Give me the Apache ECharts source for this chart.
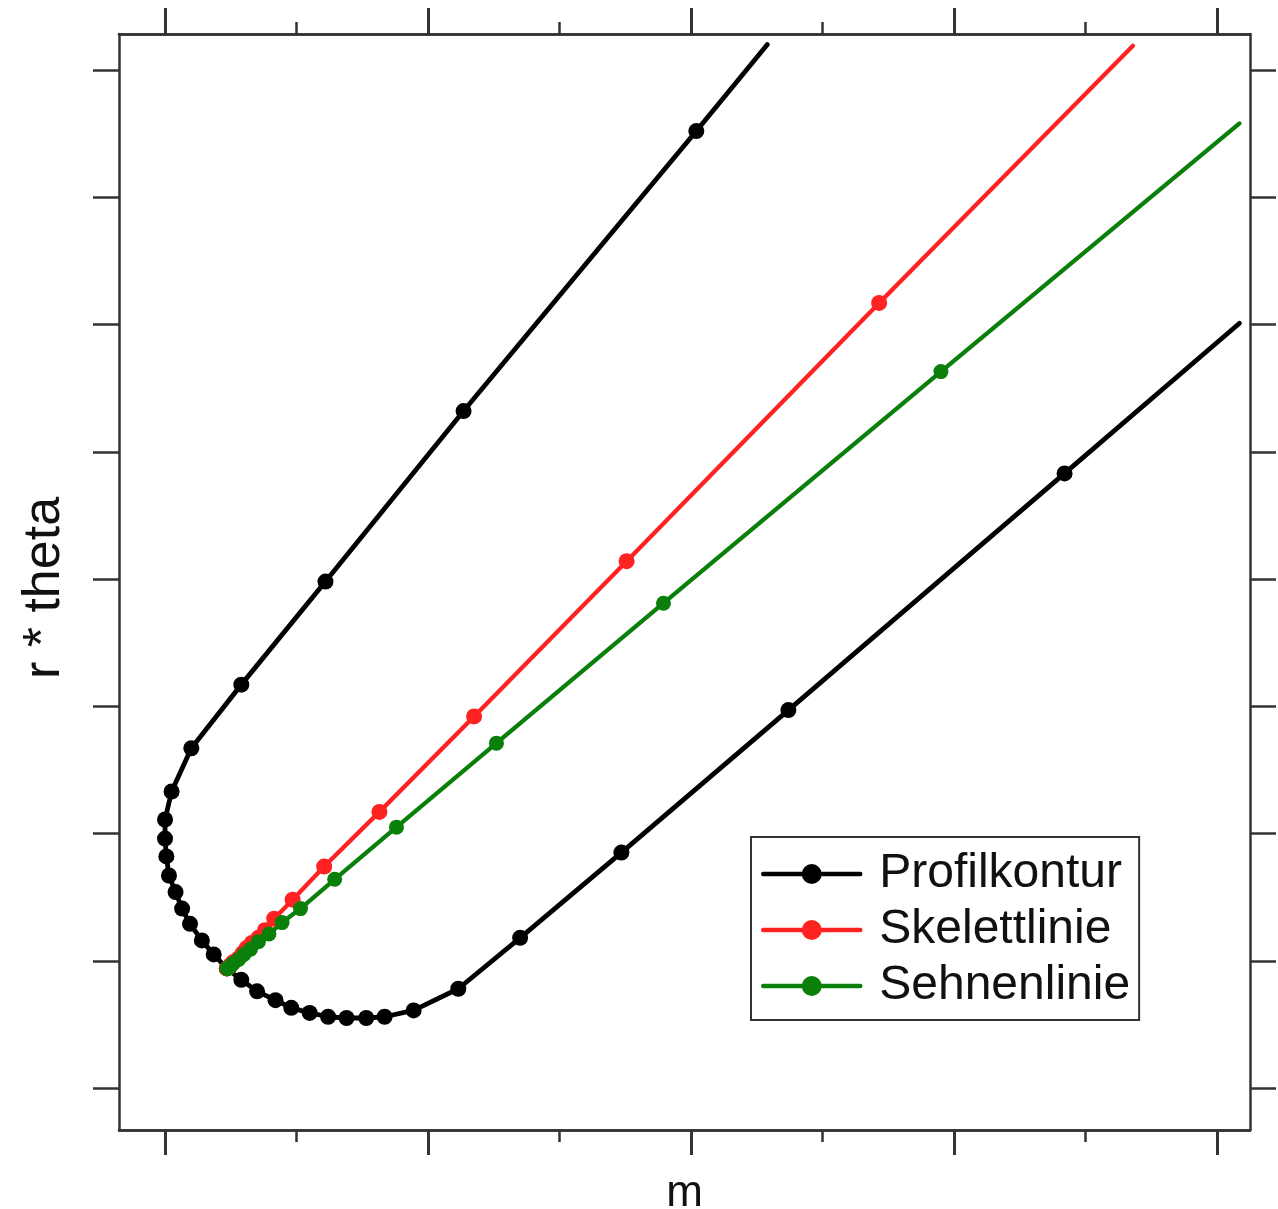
<!DOCTYPE html>
<html>
<head>
<meta charset="utf-8">
<script src="https://cdn.jsdelivr.net/npm/echarts@6/dist/echarts.min.js"></script>
<style>
  html, body { margin: 0; padding: 0; background: #fff; overflow: hidden; }
  #chart { width: 1278px; height: 1209px; }
</style>
</head>
<body>
<div id="chart"></div>
<script>
// Profile contour, traced from the upper trailing end round the nose to the lower trailing end
const profilM = [4.58, 4.04, 2.27, 1.22, 0.58, 0.20, 0.05, 0.00, 0.00, 0.01, 0.03, 0.08, 0.13, 0.19, 0.28, 0.37, 0.47,
                 0.58, 0.70, 0.84, 0.96, 1.10, 1.24, 1.38, 1.53, 1.67, 1.89, 2.23, 2.70, 3.47, 4.74, 6.84, 8.17];
const profilR = [8.20, 7.52, 5.32, 3.98, 3.17, 2.67, 2.33, 2.11, 1.96, 1.82, 1.67, 1.54, 1.41, 1.29, 1.16, 1.05, 0.94,
                 0.85, 0.76, 0.69, 0.63, 0.59, 0.56, 0.55, 0.55, 0.56, 0.61, 0.78, 1.18, 1.85, 2.97, 4.83, 6.01];

// Skeleton (camber) line
const skelettM = [0.47, 0.49, 0.50, 0.52, 0.56, 0.59, 0.62, 0.66, 0.71, 0.76, 0.83, 0.97, 1.21, 1.63, 2.35, 3.51, 5.43, 7.36];
const skelettR = [0.94, 0.95, 0.97, 0.99, 1.02, 1.06, 1.10, 1.14, 1.18, 1.24, 1.33, 1.48, 1.74, 2.17, 2.92, 4.14, 6.17, 8.19];

// Chord line
const sehneM = [0.47, 0.48, 0.50, 0.52, 0.56, 0.60, 0.65, 0.71, 0.79, 0.89, 1.03, 1.29, 1.76, 2.52, 3.79, 5.90, 8.17];
const sehneR = [0.94, 0.94, 0.96, 0.98, 1.01, 1.05, 1.09, 1.15, 1.21, 1.30, 1.41, 1.64, 2.05, 2.71, 3.81, 5.63, 7.58];

// Tick positions (no tick labels are drawn)
const xMajorTicks = [0, 2, 4, 6, 8];
const xMinorTicks = [1, 3, 5, 7];
const yTicks = [0, 1, 2, 3, 4, 5, 6, 7, 8];

const X_MIN = -0.35, X_MAX = 8.25;
const Y_MIN = -0.33, Y_MAX = 8.283;

const FONT = 'Liberation Sans, Arial, Helvetica, sans-serif';
const AXIS_COLOR = '#333';

// Open curves: the ends of each curve carry no marker
function toData(ms, rs, bareStart) {
  return ms.map((m, i) => {
    const item = { value: [m, rs[i]] };
    if (i === ms.length - 1 || (bareStart && i === 0)) item.symbol = 'none';
    return item;
  });
}

function xAxis(position, ticks, len, withName) {
  return {
    type: 'value', position: position, min: X_MIN, max: X_MAX,
    name: withName ? 'm' : '',
    nameLocation: 'middle', nameGap: 42,
    nameTextStyle: { fontFamily: FONT, fontSize: 44, color: '#111' },
    axisLine: { show: true, onZero: false, lineStyle: { color: AXIS_COLOR, width: 2.5 } },
    axisTick: { show: true, inside: false, length: len, customValues: ticks,
                lineStyle: { color: AXIS_COLOR, width: len > 20 ? 3 : 2.5 } },
    axisLabel: { show: false },
    splitLine: { show: false }
  };
}

function yAxis(position, withName) {
  return {
    type: 'value', position: position, min: Y_MIN, max: Y_MAX,
    name: withName ? 'r * theta' : '',
    nameLocation: 'middle', nameGap: 48, nameRotate: 90,
    nameTextStyle: { fontFamily: FONT, fontSize: 52, color: '#111', padding: [0, 12, 0, 0] },
    axisLine: { show: true, onZero: false, lineStyle: { color: AXIS_COLOR, width: 2.5 } },
    axisTick: { show: true, inside: false, length: 26, customValues: yTicks,
                lineStyle: { color: AXIS_COLOR, width: 2.5 } },
    axisLabel: { show: false },
    splitLine: { show: false }
  };
}

function curve(name, ms, rs, color, width, size, bareStart) {
  return {
    name: name, type: 'line',
    xAxisIndex: 0, yAxisIndex: 0,
    data: toData(ms, rs, bareStart),
    symbol: 'circle', symbolSize: size, showAllSymbol: true,
    lineStyle: { color: color, width: width, cap: 'round', join: 'round' },
    itemStyle: { color: color, borderWidth: 0 },
    emphasis: { disabled: true },
    animation: false, clip: true
  };
}

const chart = echarts.init(document.getElementById('chart'), null, { renderer: 'canvas', width: 1278, height: 1209 });
chart.setOption({
  backgroundColor: '#fff',
  animation: false,
  grid: { left: 119, top: 34, right: 28, bottom: 79, containLabel: false, outerBoundsMode: 'none' },
  xAxis: [
    xAxis('bottom', xMajorTicks, 25, true),
    xAxis('bottom', xMinorTicks, 12, false),
    xAxis('top', xMajorTicks, 26, false),
    xAxis('top', xMinorTicks, 12, false)
  ],
  yAxis: [
    yAxis('left', true),
    yAxis('right', false)
  ],
  legend: {
    orient: 'vertical', left: 751, top: 837,
    data: ['Profilkontur', 'Skelettlinie', 'Sehnenlinie'],
    itemWidth: 97, itemHeight: 25, itemGap: 6,
    padding: [12, 9, 9, 10],
    borderColor: '#333', borderWidth: 2, borderRadius: 0,
    backgroundColor: '#fff',
    selectedMode: false,
    lineStyle: { width: 4.5 },
    textStyle: { fontFamily: FONT, fontSize: 48, color: '#111', lineHeight: 50, padding: [0, 0, 0, 14] }
  },
  series: [
    curve('Profilkontur', profilM, profilR, '#000000', 4.8, 16, true),
    curve('Skelettlinie', skelettM, skelettR, '#ff2222', 4.3, 16, false),
    curve('Sehnenlinie', sehneM, sehneR, '#0a7f0a', 4.3, 15, false)
  ]
});
</script>
</body>
</html>
